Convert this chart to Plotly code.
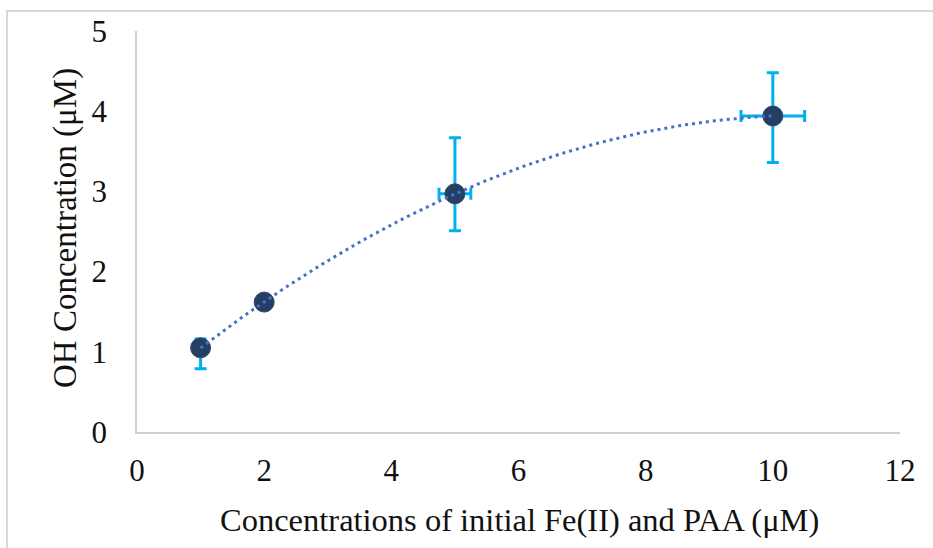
import numpy as np
import plotly.graph_objects as go

# Data
x_vals = [1, 2, 5, 10]
y_vals = [1.05, 1.62, 2.97, 3.94]
y_err_plus = [0.11, 0.0, 0.70, 0.54]
y_err_minus = [0.26, 0.0, 0.46, 0.58]
x_err = [0.0, 0.0, 0.25, 0.5]
x_ticks = [0, 2, 4, 6, 8, 10, 12]
y_ticks = [0, 1, 2, 3, 4, 5]

# Polynomial (order 2) trendline fitted to data
coef = np.polyfit(x_vals, y_vals, 2)
xt = np.linspace(min(x_vals), max(x_vals), 200)
yt = np.polyval(coef, xt)

W, H = 933, 548
# target positions in window pixels (page body margin removed below)
AX_L, AX_R, AX_T, AX_B = 137, 900, 31, 432
L, T, R, B = AX_L, AX_T, W - AX_R, H - AX_B
pw, ph = AX_R - AX_L, AX_B - AX_T

FONT = "Liberation Serif"

def px(xw):
    return (xw - AX_L) / pw

def py(yw):
    return (AX_B - yw) / ph

fig = go.Figure()
fig.add_trace(go.Scatter(
    x=x_vals, y=y_vals, mode="markers",
    marker=dict(size=20, color="#243F63", line=dict(color="#2E4A72", width=1)),
    error_y=dict(type="data", symmetric=False, array=y_err_plus, arrayminus=y_err_minus,
                 color="#00B0F0", thickness=3, width=6),
    error_x=dict(type="data", array=x_err, color="#00B0F0", thickness=3, width=6),
    showlegend=False, hoverinfo="skip",
))
fig.add_trace(go.Scatter(
    x=xt, y=yt, mode="lines",
    line=dict(color="#4472C4", width=3, dash="3px,4px"),
    showlegend=False, hoverinfo="skip",
))

fig.update_layout(
    width=W, height=H,
    margin=dict(l=L, r=R, t=T, b=B, pad=0),
    paper_bgcolor="white", plot_bgcolor="white",
    font=dict(family=FONT, size=31, color="#111111"),
    xaxis=dict(range=[0, 12], tickvals=x_ticks, showgrid=False, zeroline=False,
               showline=True, linecolor="#D0D0D0", linewidth=1.5,
               ticks="", ticklabelstandoff=10, tickfont=dict(size=31)),
    yaxis=dict(range=[0, 5], tickvals=y_ticks, showgrid=False, zeroline=False,
               showline=True, linecolor="#D0D0D0", linewidth=1.5,
               ticks="", ticklabelstandoff=22, tickfont=dict(size=31)),
    annotations=[
        dict(text="Concentrations of initial Fe(II) and PAA (μM)", xref="paper", yref="paper",
             x=px(519), y=py(520), xanchor="center", yanchor="middle",
             showarrow=False, font=dict(size=32.5)),
        dict(text="OH Concentration (μM)", xref="paper", yref="paper",
             x=px(65), y=py(228), xanchor="center", yanchor="middle",
             textangle=-90, showarrow=False, font=dict(size=33)),
    ],
    shapes=[
        dict(type="rect", xref="paper", yref="paper",
             x0=px(7), x1=px(980), y0=py(600), y1=py(11),
             line=dict(color="#D9D9D9", width=2), fillcolor="rgba(0,0,0,0)", layer="below"),
    ],
)

fig.write_html(
    "out.html",
    config={"displayModeBar": False},
    post_script="document.body.style.margin='0';document.body.style.overflow='hidden';",
)
